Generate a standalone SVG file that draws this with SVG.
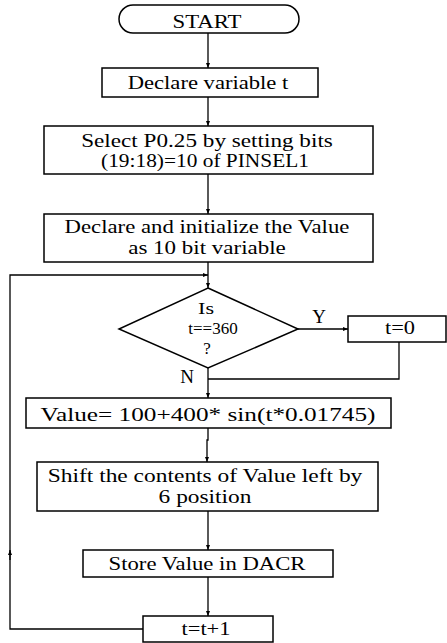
<svg xmlns="http://www.w3.org/2000/svg" width="447" height="643" viewBox="0 0 447 643">
<style>
.b{fill:#fff;stroke:#000;stroke-width:1.5}
.l{fill:none;stroke:#000;stroke-width:1.3}
text{font-size:19px;fill:#000;text-anchor:middle}
.d{font-size:17px}
</style>
<defs>
<marker id="a" markerWidth="5" markerHeight="4" refX="5" refY="2" orient="auto" markerUnits="userSpaceOnUse">
<path d="M0,0 L5,2 L0,4 Z" fill="#000"/>
</marker>
</defs>
<rect width="447" height="643" fill="#fff"/>
<g id="connectors">
<path class="l" d="M208,33 V68" marker-end="url(#a)"/>
<path class="l" d="M208,97 V126" marker-end="url(#a)"/>
<path class="l" d="M208,174 V214" marker-end="url(#a)"/>
<path class="l" d="M208,262 V288" marker-end="url(#a)"/>
<path class="l" d="M298,329 H348" marker-end="url(#a)"/>
<path class="l" d="M399,342 V379 H208"/>
<path class="l" d="M208,368 V398" marker-end="url(#a)"/>
<path class="l" d="M208,428 V440 H207 V462" marker-end="url(#a)"/>
<path class="l" d="M208,511 V550" marker-end="url(#a)"/>
<path class="l" d="M208,577 V616" marker-end="url(#a)"/>
<path class="l" d="M143,629 H10 V275 H208" marker-end="url(#a)"/>
<path class="l" d="M10,560 V550" marker-end="url(#a)"/>
</g>
<g font-family="Liberation Serif">
<g id="start">
<rect class="b" x="119" y="5" width="180" height="28" rx="14"/>
<text font-family="Liberation Serif" transform="translate(207,28) scale(1.2,1)">START</text>
</g>
<g id="declare-t">
<rect class="b" x="102" y="68" width="216" height="29"/>
<text font-family="Liberation Serif" transform="translate(208,89) scale(1.19,1)">Declare variable t</text>
</g>
<g id="select">
<rect class="b" x="44" y="126" width="329" height="48"/>
<text font-family="Liberation Serif" transform="translate(207,147) scale(1.22,1)">Select P0.25 by setting bits</text>
<text font-family="Liberation Serif" transform="translate(205,167) scale(1.125,1)">(19:18)=10 of PINSEL1</text>
</g>
<g id="declare-value">
<rect class="b" x="44" y="214" width="329" height="48"/>
<text font-family="Liberation Serif" transform="translate(207,233) scale(1.197,1)">Declare and initialize the Value</text>
<text font-family="Liberation Serif" transform="translate(207,254) scale(1.21,1)">as 10 bit variable</text>
</g>
<g id="decision">
<path class="b" d="M208,288 L298,329 L208,368 L119,329 Z"/>
<text class="d" font-family="Liberation Serif" transform="translate(206,314) scale(1.3,1)">Is</text>
<text class="d" font-family="Liberation Serif" transform="translate(213,334) scale(1,1)">t==360</text>
<text class="d" font-family="Liberation Serif" x="207" y="354">?</text>
</g>
<text font-family="Liberation Serif" x="319" y="323">Y</text>
<text font-family="Liberation Serif" x="187" y="383">N</text>
<g id="reset">
<rect class="b" x="348" y="316" width="98" height="26"/>
<text font-family="Liberation Serif" transform="translate(400,334) scale(1.18,1)">t=0</text>
</g>
<g id="compute">
<rect class="b" x="26" y="398" width="365" height="30"/>
<text font-family="Liberation Serif" transform="translate(208,421) scale(1.33,1)">Value= 100+400* sin(t*0.01745)</text>
</g>
<g id="shift">
<rect class="b" x="37" y="462" width="341" height="49"/>
<text font-family="Liberation Serif" transform="translate(205,482) scale(1.235,1)">Shift the contents of Value left by</text>
<text font-family="Liberation Serif" transform="translate(205,503) scale(1.23,1)">6 position</text>
</g>
<g id="store">
<rect class="b" x="83" y="550" width="250" height="27"/>
<text font-family="Liberation Serif" transform="translate(207,570) scale(1.195,1)">Store Value in DACR</text>
</g>
<g id="increment">
<rect class="b" x="143" y="616" width="130" height="26"/>
<text font-family="Liberation Serif" transform="translate(206,635) scale(1.18,1)">t=t+1</text>
</g>
</g>
</svg>
